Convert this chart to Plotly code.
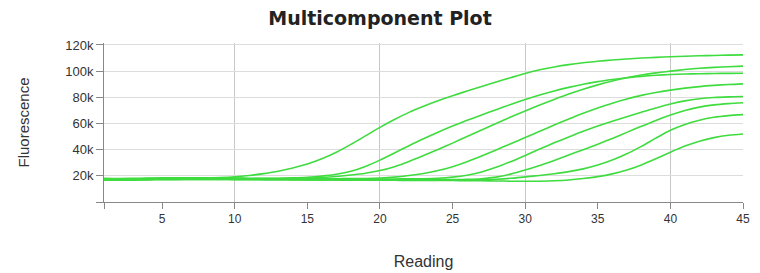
import plotly.graph_objects as go

readings = list(range(1, 46))

curve_1 = [17800, 17600, 17700, 17900, 18000, 18100, 18200, 18300, 18600, 19200,
           20300, 21700, 23500, 26000, 29000, 33000, 38000, 44000, 50500, 57000,
           63000, 68500, 73200, 77400, 81200, 84800, 88300, 91700, 95000, 98200,
           101000, 103200, 105000, 106400, 107500, 108500, 109300, 110000, 110500, 111000,
           111400, 111700, 112000, 112200, 112400]
curve_2 = [17200, 17000, 17100, 17300, 17400, 17500, 17500, 17600, 17600, 17700,
           17800, 17900, 18100, 18400, 18900, 19800, 21200, 23500, 27200, 32000,
           37500, 43000, 48300, 53300, 58000, 62400, 66500, 70500, 74500, 78300,
           81800, 84900, 87600, 90000, 92000, 93600, 95000, 96000, 96800, 97400,
           97800, 98000, 98200, 98300, 98400]
curve_3 = [16800, 16700, 16900, 17100, 17200, 17300, 17400, 17400, 17500, 17500,
           17500, 17600, 17700, 17900, 18200, 18700, 19500, 20600, 22000, 24000,
           27000, 31000, 35500, 40200, 45000, 50000, 55000, 60000, 64900, 69600,
           74100, 78400, 82500, 86200, 89500, 92400, 94900, 97000, 98700, 100000,
           101200, 102200, 102900, 103400, 103800]
curve_4 = [17400, 17300, 17400, 17600, 17700, 17800, 17800, 17900, 17900, 17900,
           17800, 17800, 17700, 17700, 17700, 17700, 17800, 17900, 18000, 18300,
           19000, 20200, 21800, 24000, 27000, 30800, 35200, 39800, 44500, 49200,
           54000, 58800, 63400, 67800, 71800, 75500, 78700, 81500, 83700, 85500,
           87000, 88200, 89100, 89800, 90300]
curve_5 = [18200, 18000, 18100, 18300, 18400, 18500, 18500, 18500, 18400, 18300,
           18200, 18100, 18000, 17900, 17800, 17700, 17700, 17600, 17600, 17600,
           17600, 17700, 17800, 18100, 19000, 20500, 23000, 26500, 30800, 35600,
           40500, 45200, 49700, 54000, 58000, 61700, 65200, 68600, 71900, 74900,
           77300, 78900, 79800, 80300, 80600]
curve_6 = [17600, 17500, 17600, 17800, 17900, 18000, 18000, 18000, 17900, 17900,
           17800, 17700, 17600, 17500, 17400, 17300, 17200, 17100, 17000, 17000,
           16900, 16900, 16900, 17000, 17100, 17300, 17800, 19000, 21300, 24400,
           27900, 31800, 35900, 40000, 44200, 48600, 53200, 57800, 62300, 66400,
           69900, 72500, 74200, 75200, 75800]
curve_7 = [16900, 16800, 16900, 17100, 17200, 17300, 17300, 17300, 17300, 17200,
           17200, 17100, 17000, 17000, 16900, 16900, 16800, 16800, 16700, 16700,
           16700, 16600, 16600, 16600, 16700, 16800, 17000, 17400, 18100, 19200,
           20300, 21600, 23200, 25300, 28200, 32000, 36800, 42500, 48800, 54800,
           59300, 62500, 64700, 66000, 66800]
curve_8 = [17000, 16900, 17000, 17200, 17300, 17300, 17300, 17200, 17200, 17100,
           17100, 17000, 17000, 16900, 16900, 16800, 16800, 16700, 16700, 16600,
           16600, 16500, 16500, 16400, 16400, 16300, 16200, 16100, 15900, 15800,
           15900, 16200, 16800, 17900, 19400, 21500, 24400, 28300, 33000, 38000,
           42700, 46500, 49200, 51000, 52000]

curves = [curve_1, curve_2, curve_3, curve_4, curve_5, curve_6, curve_7, curve_8]

y_tick_vals = [0, 20000, 40000, 60000, 80000, 100000, 120000]
y_tick_text = ["", "20k", "40k", "60k", "80k", "100k", "120k"]
x_tick_vals = [1, 5, 10, 15, 20, 25, 30, 35, 40, 45]
x_tick_text = ["", "5", "10", "15", "20", "25", "30", "35", "40", "45"]
x_grid_vals = [10, 20, 30, 40]

fig = go.Figure()
for c in curves:
    fig.add_trace(go.Scatter(
        x=readings, y=c, mode="lines",
        line=dict(color="#3fdc3f", width=1.6, shape="spline", smoothing=0.8),
        showlegend=False, hoverinfo="skip"))

# page body has an 8px margin, so the figure is 8px smaller than the window
fig.update_layout(
    width=752, height=265,
    margin=dict(l=96, r=17, t=35, b=71, autoexpand=False),
    paper_bgcolor="white", plot_bgcolor="white",
    font=dict(family="Liberation Sans, Arial, sans-serif", color="#333", size=13),
    title=dict(text="<b>Multicomponent Plot</b>", x=0.4947, xanchor="center",
               y=0.962, yanchor="middle",
               font=dict(size=19, color="#222", family="DejaVu Sans, sans-serif")),
)
fig.update_xaxes(
    range=[1, 45], tickmode="array", tickvals=x_tick_vals, ticktext=x_tick_text,
    ticks="outside", ticklen=6, tickcolor="#888", showline=True, linecolor="#888",
    linewidth=1, showgrid=False, zeroline=False, automargin=False,
    tickfont=dict(size=12),
    minor=dict(tickmode="array", tickvals=x_grid_vals, showgrid=True,
               gridcolor="#c8c8c8", gridwidth=1, ticks=""),
    title=dict(text="Reading", font=dict(size=16, color="#333"), standoff=30),
)
fig.update_yaxes(
    range=[0, 121500], tickmode="array", tickvals=y_tick_vals, ticktext=y_tick_text,
    ticks="outside", ticklen=7, tickcolor="#888", showline=True, linecolor="#888",
    linewidth=1, showgrid=True, gridcolor="#dcdcdc", gridwidth=1, zeroline=False,
    automargin=False, tickfont=dict(size=13),
    title=dict(text="Fluorescence", font=dict(size=15, color="#333"), standoff=31),
)

fig.write_html("out.html")
